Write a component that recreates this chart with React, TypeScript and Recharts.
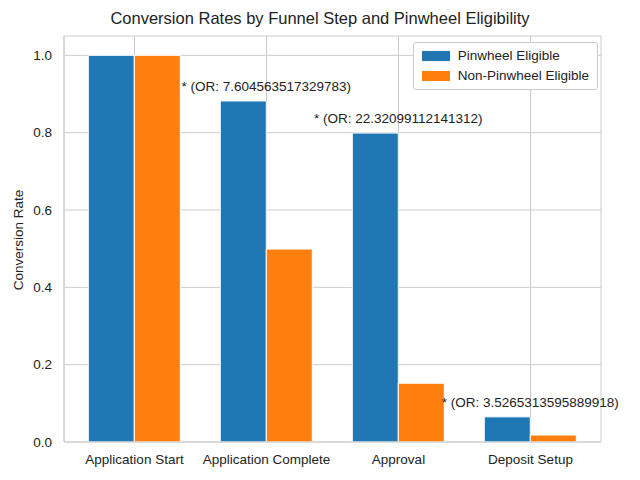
import React from "react";
import { BarChart, Bar, XAxis, YAxis, CartesianGrid, LabelList } from "recharts";

const categories = ["Application Start", "Application Complete", "Approval", "Deposit Setup"];
const pinwheel = [1.0, 0.882, 0.799, 0.065];
const nonPinwheel = [1.0, 0.499, 0.152, 0.018];
const oddsLabels = ["", "* (OR: 7.604563517329783)", "* (OR: 22.32099112141312)", "* (OR: 3.5265313595889918)"];
const yTicks = [0, 0.2, 0.4, 0.6, 0.8, 1.0];

const data = categories.map((c, i) => ({ name: c, p: pinwheel[i], n: nonPinwheel[i], label: oddsLabels[i] }));
const font = "'Liberation Sans', Arial, sans-serif";

const LegendBox = () => (
  <div style={{ position: "absolute", right: 42, top: 42, zIndex: 2, border: "1px solid #ccc", borderRadius: 3, background: "white", padding: "3px 8px", fontSize: 13.5, fontFamily: font, color: "#222", lineHeight: "20px" }}>
    {[["Pinwheel Eligible", "#1f77b4"], ["Non-Pinwheel Eligible", "#ff7f0e"]].map(([t, c]) => (
      <div key={t} style={{ display: "flex", alignItems: "center" }}>
        <span style={{ display: "inline-block", width: 28, height: 10, background: c, marginRight: 8 }} />
        {t}
      </div>
    ))}
  </div>
);

const OrLabel = (props: any) => {
  const { x, y, width, index } = props;
  const t = oddsLabels[index];
  if (!t) return null;
  return <text x={x + width} y={y - 10} textAnchor="middle" fontSize={13.5} fill="#222" fontFamily={font}>{t}</text>;
};

export default function App() {
  return (
    <div style={{ position: "absolute", left: 0, top: 0, width: 640, height: 480, background: "white", fontFamily: font }}>
      <div style={{ position: "absolute", top: 9, width: 640, textAlign: "center", fontSize: 16.5, color: "#222" }}>
        Conversion Rates by Funnel Step and Pinwheel Eligibility
      </div>
      <div style={{ position: "absolute", left: 4, top: 240, transform: "translate(-50%,-50%) rotate(-90deg)", transformOrigin: "center", fontSize: 13.5, color: "#222", whiteSpace: "nowrap", marginLeft: 14 }}>
        Conversion Rate
      </div>
      <LegendBox />
      <BarChart width={640} height={480} data={data} margin={{ top: 36, right: 39, left: 0, bottom: 0 }} barCategoryGap="15%" barGap={0}>
        <CartesianGrid stroke="#cccccc" />
        <XAxis dataKey="name" padding={{ left: 4.5, right: 4.5 }} tickLine={false} axisLine={{ stroke: "#cccccc" }} tick={{ fontSize: 13.5, fill: "#222", fontFamily: font }} height={38} tickMargin={6} interval={0} />
        <YAxis width={64} domain={[0, 1.05]} ticks={yTicks} tickFormatter={(v: number) => v.toFixed(1)} tickLine={false} axisLine={{ stroke: "#cccccc" }} tick={{ fontSize: 13.5, fill: "#222", fontFamily: font }} tickMargin={6} />
        <Bar dataKey="p" fill="#1f77b4" stroke="#ffffff" strokeWidth={1} isAnimationActive={false}>
          <LabelList dataKey="label" content={OrLabel} />
        </Bar>
        <Bar dataKey="n" fill="#ff7f0e" stroke="#ffffff" strokeWidth={1} isAnimationActive={false} />
      </BarChart>
    </div>
  );
}
